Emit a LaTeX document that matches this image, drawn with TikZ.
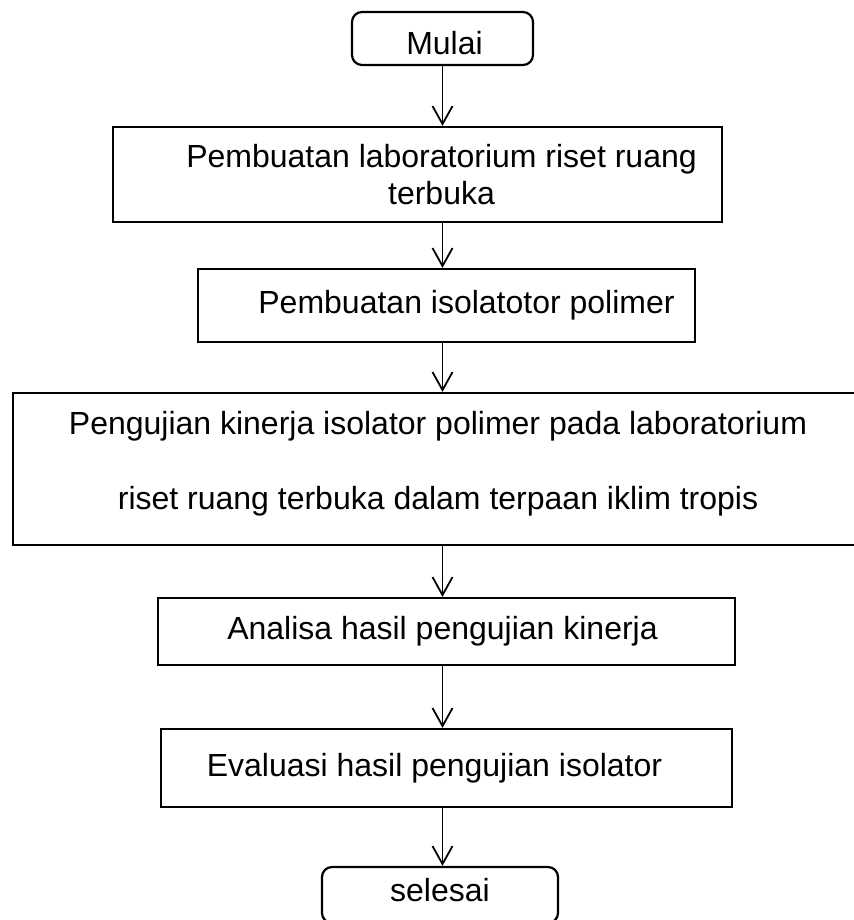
\documentclass[tikz,border=0pt]{standalone}
\usepackage{fontspec}
\setmainfont{Liberation Sans}
\usetikzlibrary{arrows.meta}
\tikzset{
	proses/.style = {draw, line width = 1.1pt, inner sep = 0pt, align = center,
		font = \fontsize{16}{18.5}\selectfont},
	terminal/.style = {proses, rounded corners = 5pt},
	panah/.style = {-{Straight Barb[length = 9pt, width = 10pt]}, line width = .9pt}
}
\begin{document}
\begin{tikzpicture}[x = .5pt, y = -.5pt]
	\useasboundingbox (0,0) rectangle (853,920);
	\node [terminal, minimum width = 90.5pt, minimum height = 26.5pt] (mulai) at (442.5,38.5) {\rule{0pt}{16.5pt}\hspace*{2pt}Mulai};
	\node [proses, minimum width = 304.5pt, minimum height = 47.5pt] (lab) at (417.5,174.5)
		{\hspace*{24pt}Pembuatan laboratorium riset ruang \\ \hspace*{24pt}terbuka};
	\node [proses, minimum width = 248.5pt, minimum height = 36.5pt] (isolator) at (446.5,305.5)
		{\hspace*{20pt}Pembuatan isolatotor polimer};
	\node [proses, minimum width = 425pt, minimum height = 76pt, font = \fontsize{16}{37.5}\selectfont] (uji) at (438,469)
		{Pengujian kinerja isolator polimer pada laboratorium \\ riset ruang terbuka dalam terpaan iklim tropis\rule[-9pt]{0pt}{9pt}};
	\node [proses, minimum width = 288.5pt, minimum height = 33.5pt] (analisa) at (446.5,631.5)
		{\hspace*{-4pt}Analisa hasil pengujian kinerja};
	\node [proses, minimum width = 285.5pt, minimum height = 39pt] (evaluasi) at (446.5,768)
		{\hspace*{-12pt}Evaluasi hasil pengujian isolator};
	\node [terminal, minimum width = 118pt, minimum height = 28pt] (selesai) at (440,895) {selesai\rule[-5pt]{0pt}{5pt}};
	% panah antar langkah
	\draw [panah] (mulai.south) -- (mulai.south |- lab.north);
	\draw [panah] (lab.south -| mulai) -- (isolator.north -| mulai);
	\draw [panah] (isolator.south -| mulai) -- (uji.north -| mulai);
	\draw [panah] (uji.south -| mulai) -- (analisa.north -| mulai);
	\draw [panah] (analisa.south -| mulai) -- (evaluasi.north -| mulai);
	\draw [panah] (evaluasi.south -| mulai) -- (selesai.north -| mulai);
\end{tikzpicture}
\end{document}
